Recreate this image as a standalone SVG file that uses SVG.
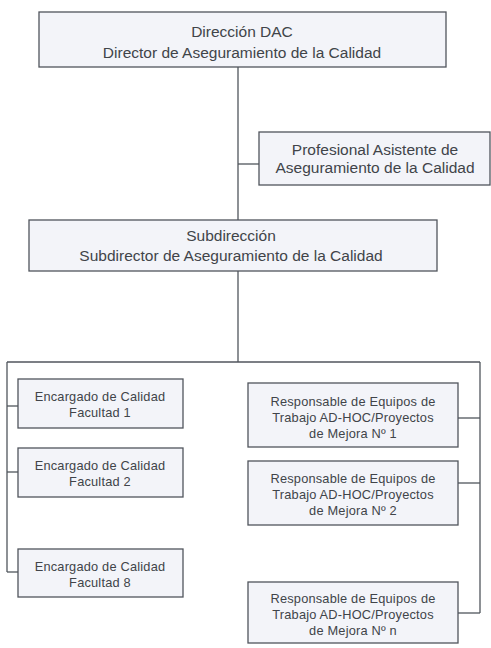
<svg xmlns="http://www.w3.org/2000/svg" width="491" height="648" viewBox="0 0 491 648">
<style>
.box{fill:#f3f4f9;stroke:#50555c;stroke-width:1.3}
.ln{fill:none;stroke:#50555c;stroke-width:1.3}
.t{font-family:"Liberation Sans",Arial,sans-serif;fill:#414449;text-anchor:middle}
.big{font-size:15.5px}
.sm{font-size:12.8px;letter-spacing:0.2px}
</style>
<rect width="491" height="648" fill="#ffffff"/>
<g id="connectors">
<path class="ln" d="M238,67 V220"/>
<path class="ln" d="M238,164 H259"/>
<path class="ln" d="M238,271 V362"/>
<path class="ln" d="M7,362 H480"/>
<path class="ln" d="M7,362 V572"/>
<path class="ln" d="M7,406 H18"/>
<path class="ln" d="M7,472 H18"/>
<path class="ln" d="M7,572 H18"/>
<path class="ln" d="M480,362 V613"/>
<path class="ln" d="M458,418 H480"/>
<path class="ln" d="M458,483 H480"/>
<path class="ln" d="M458,613 H480"/>
</g>
<g id="direccion">
<rect class="box" x="39" y="12" width="407" height="55"/>
<text class="t big" x="242" y="37">Dirección DAC</text>
<text class="t big" x="242" y="58">Director de Aseguramiento de la Calidad</text>
</g>
<g id="profesional">
<rect class="box" x="259" y="132" width="231" height="53"/>
<text class="t big" x="375" y="155">Profesional Asistente de</text>
<text class="t big" x="375" y="173">Aseguramiento de la Calidad</text>
</g>
<g id="subdireccion">
<rect class="box" x="29" y="220" width="408" height="51"/>
<text class="t big" x="231" y="241">Subdirección</text>
<text class="t big" x="231" y="261">Subdirector de Aseguramiento de la Calidad</text>
</g>
<g id="facultad1">
<rect class="box" x="18" y="379" width="165" height="49"/>
<text class="t sm" x="100" y="401">Encargado de Calidad</text>
<text class="t sm" x="100" y="417">Facultad 1</text>
</g>
<g id="facultad2">
<rect class="box" x="18" y="448" width="165" height="49"/>
<text class="t sm" x="100" y="470">Encargado de Calidad</text>
<text class="t sm" x="100" y="486">Facultad 2</text>
</g>
<g id="facultad8">
<rect class="box" x="18" y="549" width="165" height="48"/>
<text class="t sm" x="100" y="571">Encargado de Calidad</text>
<text class="t sm" x="100" y="587">Facultad 8</text>
</g>
<g id="responsable1">
<rect class="box" x="248" y="383" width="210" height="64"/>
<text class="t sm" x="353" y="406">Responsable de Equipos de</text>
<text class="t sm" x="353" y="422">Trabajo AD-HOC/Proyectos</text>
<text class="t sm" x="353" y="438">de Mejora Nº 1</text>
</g>
<g id="responsable2">
<rect class="box" x="248" y="461" width="210" height="64"/>
<text class="t sm" x="353" y="483">Responsable de Equipos de</text>
<text class="t sm" x="353" y="499">Trabajo AD-HOC/Proyectos</text>
<text class="t sm" x="353" y="515">de Mejora Nº 2</text>
</g>
<g id="responsablen">
<rect class="box" x="248" y="582" width="210" height="61"/>
<text class="t sm" x="353" y="603">Responsable de Equipos de</text>
<text class="t sm" x="353" y="619">Trabajo AD-HOC/Proyectos</text>
<text class="t sm" x="353" y="635">de Mejora Nº n</text>
</g>
</svg>
